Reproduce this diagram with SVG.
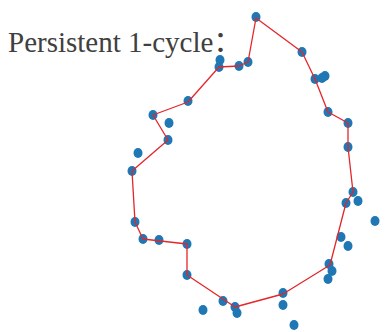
<svg xmlns="http://www.w3.org/2000/svg" width="385" height="332" viewBox="0 0 385 332">
<style>
.pt{fill:#1f77b4}
.cyc{fill:none;stroke:#e3262b;stroke-width:1.3;stroke-linejoin:round}
.lbl{font-family:"Liberation Serif","Noto Sans CJK SC",serif;font-size:29px;fill:#404040}
</style>
<rect width="385" height="332" fill="#fff"/>
<text class="lbl" x="8" y="52">Persistent 1-cycle：</text>
<g id="points">
<ellipse class="pt" cx="256" cy="17" rx="4.5" ry="5"/>
<ellipse class="pt" cx="302" cy="52" rx="4.5" ry="5"/>
<ellipse class="pt" cx="315" cy="79" rx="4.5" ry="5"/>
<ellipse class="pt" cx="325" cy="76" rx="4.5" ry="5"/>
<ellipse class="pt" cx="322" cy="78" rx="4.5" ry="5"/>
<ellipse class="pt" cx="328" cy="112" rx="4.5" ry="5"/>
<ellipse class="pt" cx="348" cy="123" rx="4.5" ry="5"/>
<ellipse class="pt" cx="348" cy="147" rx="4.5" ry="5"/>
<ellipse class="pt" cx="353" cy="192" rx="4.5" ry="5"/>
<ellipse class="pt" cx="346" cy="203" rx="4.5" ry="5"/>
<ellipse class="pt" cx="358" cy="201" rx="4.5" ry="5"/>
<ellipse class="pt" cx="375" cy="221" rx="4.5" ry="5"/>
<ellipse class="pt" cx="341" cy="237" rx="4.5" ry="5"/>
<ellipse class="pt" cx="348" cy="246" rx="4.5" ry="5"/>
<ellipse class="pt" cx="329" cy="264" rx="4.5" ry="5"/>
<ellipse class="pt" cx="332" cy="271" rx="4.5" ry="5"/>
<ellipse class="pt" cx="328" cy="279" rx="4.5" ry="5"/>
<ellipse class="pt" cx="283" cy="293" rx="4.5" ry="5"/>
<ellipse class="pt" cx="283" cy="305" rx="4.5" ry="5"/>
<ellipse class="pt" cx="294" cy="325" rx="4.5" ry="5"/>
<ellipse class="pt" cx="235" cy="307" rx="4.5" ry="5"/>
<ellipse class="pt" cx="237" cy="313" rx="4.5" ry="5"/>
<ellipse class="pt" cx="223" cy="301" rx="4.5" ry="5"/>
<ellipse class="pt" cx="203" cy="310" rx="4.5" ry="5"/>
<ellipse class="pt" cx="187" cy="275" rx="4.5" ry="5"/>
<ellipse class="pt" cx="187" cy="244" rx="4.5" ry="5"/>
<ellipse class="pt" cx="159" cy="240" rx="4.5" ry="5"/>
<ellipse class="pt" cx="143" cy="239" rx="4.5" ry="5"/>
<ellipse class="pt" cx="135" cy="222" rx="4.5" ry="5"/>
<ellipse class="pt" cx="132" cy="171" rx="4.5" ry="5"/>
<ellipse class="pt" cx="138" cy="153" rx="4.5" ry="5"/>
<ellipse class="pt" cx="168" cy="140" rx="4.5" ry="5"/>
<ellipse class="pt" cx="169" cy="123" rx="4.5" ry="5"/>
<ellipse class="pt" cx="153" cy="115" rx="4.5" ry="5"/>
<ellipse class="pt" cx="188" cy="101" rx="4.5" ry="5"/>
<ellipse class="pt" cx="219" cy="67" rx="4.5" ry="5"/>
<ellipse class="pt" cx="220" cy="60" rx="4.5" ry="5"/>
<ellipse class="pt" cx="239" cy="66" rx="4.5" ry="5"/>
<ellipse class="pt" cx="248" cy="62" rx="4.5" ry="5"/>
</g>
<g id="connectors">
<polygon class="cyc" points="256,18 302,52 315,79 328,112 348,123 348,147 353,192 346,203 330,265 283,294 235,307 187,275 187,244 143,239 135,222 132,171 168,140 153,115 188,102 219,67 239,66 248,62"/>
</g>
</svg>
